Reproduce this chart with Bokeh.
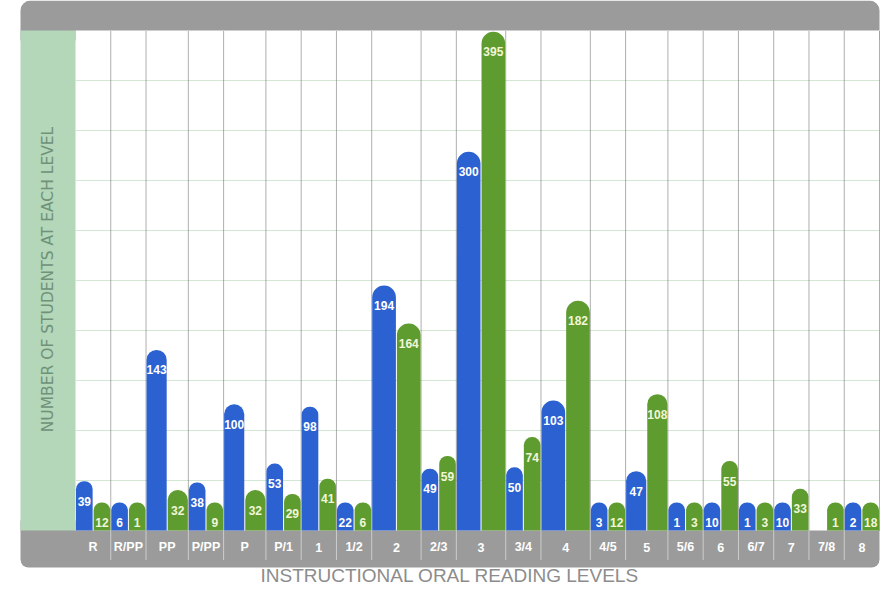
from bokeh.plotting import figure
from bokeh.models import Range1d
from bokeh.core.properties import value
from bokeh.embed import file_html
from bokeh.resources import INLINE

# ---------------- data ----------------
levels = ["R", "R/PP", "PP", "P/PP", "P", "P/1", "1", "1/2", "2", "2/3", "3",
          "3/4", "4", "4/5", "5", "5/6", "6", "6/7", "7", "7/8", "8"]
blue_counts = [39, 6, 143, 38, 100, 53, 98, 22, 194, 49, 300, 50, 103, 3, 47, 1, 10, 1, 10, None, 2]
green_counts = [12, 1, 32, 9, 32, 29, 41, 6, 164, 59, 395, 74, 182, 12, 108, 3, 55, 3, 33, 1, 18]
y_label = "NUMBER OF STUDENTS AT EACH LEVEL"
x_label = "INSTRUCTIONAL ORAL READING LEVELS"

# ---------------- layout (figure pixels) ----------------
W, H = 880, 587
card_l, card_r = 20, 879
top_band_b = 30
plot_l, plot_r = 75, 879
plot_t, plot_b = 30, 530
band_b = 567
y_max = 396.0
min_bar_px = 28

BLUE = "#2c61d1"
GREEN = "#5f9c30"
GRAY = "#9b9b9b"

# column widths: wider when a column holds 3-digit labels
def n_wide(i):
    n = 0
    for v in (blue_counts[i], green_counts[i]):
        if v is not None and v >= 100:
            n += 1
    return n

col_units = [1.0 + 0.2 * n_wide(i) for i in range(len(levels))]
U = sum(col_units)
sx = (plot_r - plot_l) / U          # px per x unit
sy = (plot_b - plot_t) / y_max      # px per count

lefts = []
acc = 0.0
for w in col_units:
    lefts.append(acc)
    acc += w

x_start = -plot_l / sx
x_end = (W - plot_l) / sx
y_start = -(H - plot_b) / sy
y_end = plot_b / sy

p = figure(width=W, height=H, output_backend="svg", toolbar_location=None,
           x_range=Range1d(x_start, x_end), y_range=Range1d(y_start, y_end),
           min_border=0, min_border_left=0, min_border_right=0,
           min_border_top=0, min_border_bottom=0)
p.axis.visible = False
p.grid.visible = False
p.outline_line_color = None
p.background_fill_color = "white"
p.border_fill_color = "white"
p.extra_x_ranges = {"px": Range1d(0, W)}
p.extra_y_ranges = {"py": Range1d(H, 0)}

# card pieces
p.quad(left=[card_l], right=[card_r], top=[0], bottom=[top_band_b + 10],
       x_range_name="px", y_range_name="py", fill_color=GRAY, line_color=None,
       border_radius=(10, 10, 0, 0))
p.quad(left=[card_l], right=[card_r], top=[plot_b - 10], bottom=[band_b],
       x_range_name="px", y_range_name="py", fill_color=GRAY, line_color=None,
       border_radius=(0, 0, 8, 8))
p.quad(left=[plot_l], right=[plot_r], top=[plot_t], bottom=[plot_b],
       x_range_name="px", y_range_name="py", fill_color="white", line_color=None)
p.quad(left=[card_l], right=[plot_l], top=[plot_t], bottom=[plot_b],
       x_range_name="px", y_range_name="py", fill_color="#b4d6b9", line_color=None)

# horizontal grid
gy = [y_max * i / 10 for i in range(1, 10)]
p.segment(x0=[0] * len(gy), x1=[U] * len(gy), y0=gy, y1=gy,
          line_color="#d3e6d3", line_width=1)

# dotted separators
bx = lefts[1:] + [U]
p.segment(x0=bx, x1=bx, y0=[0] * len(bx), y1=[y_max] * len(bx),
          line_color="#5e5e5e", line_width=1, line_dash="1 1")
p.segment(x0=bx[:-1], x1=bx[:-1], y0=[plot_b] * (len(bx) - 1), y1=[band_b - 8] * (len(bx) - 1),
          y_range_name="py", line_color="#ffffff", line_width=1, line_dash="1 1")

min_units = min_bar_px / sy
gap = 0.5 / sx

# bars grouped by column width (radius depends on bar width)
for wu in sorted(set(col_units)):
    for series, color, frac, txt_color in ((blue_counts, BLUE, 0.25, "#ffffff"),
                                            (green_counts, GREEN, 0.75, "#f1f6d8")):
        xs, tops, labs, ly = [], [], [], []
        for i, v in enumerate(series):
            if v is None or col_units[i] != wu:
                continue
            xs.append(lefts[i] + frac * wu)
            t = max(v, min_units)
            tops.append(t)
            labs.append(str(v))
            ly.append(t - 20 / sy)
        if not xs:
            continue
        bw = wu / 2 - 2 * gap
        r = int(round(bw * sx / 2))
        p.vbar(x=xs, top=tops, bottom=0, width=bw, fill_color=color,
               line_color=None, border_radius=(r, r, 0, 0))
        p.text(x=xs, y=ly, text=labs, text_align="center", text_baseline="middle",
               text_font=value("Liberation Sans"), text_font_style="bold",
               text_font_size="12px", text_color=txt_color)

# category labels
cx = [lefts[i] + col_units[i] / 2 for i in range(len(levels))]
p.text(x=cx, y=[(plot_b + band_b) / 2 - 2] * len(cx), y_range_name="py", text=levels,
       text_align="center", text_baseline="middle",
       text_font=value("Liberation Sans"), text_font_style="bold",
       text_font_size="12.5px", text_color="#ffffff")

# axis titles
p.text(x=[(card_l + plot_l) / 2], y=[(plot_t + plot_b) / 2 - 1],
       x_range_name="px", y_range_name="py", text=[y_label], angle=1.5707963,
       text_align="center", text_baseline="middle",
       text_font=value("DejaVu Sans"), text_font_size="15.5px", text_color="#6f9278")
p.text(x=[(card_l + card_r) / 2], y=[575], x_range_name="px", y_range_name="py",
       text=[x_label], text_align="center", text_baseline="middle",
       text_font=value("Liberation Sans"), text_font_size="19px", text_color="#8c8c8c")

open("out.html", "w").write(file_html(p, INLINE))
